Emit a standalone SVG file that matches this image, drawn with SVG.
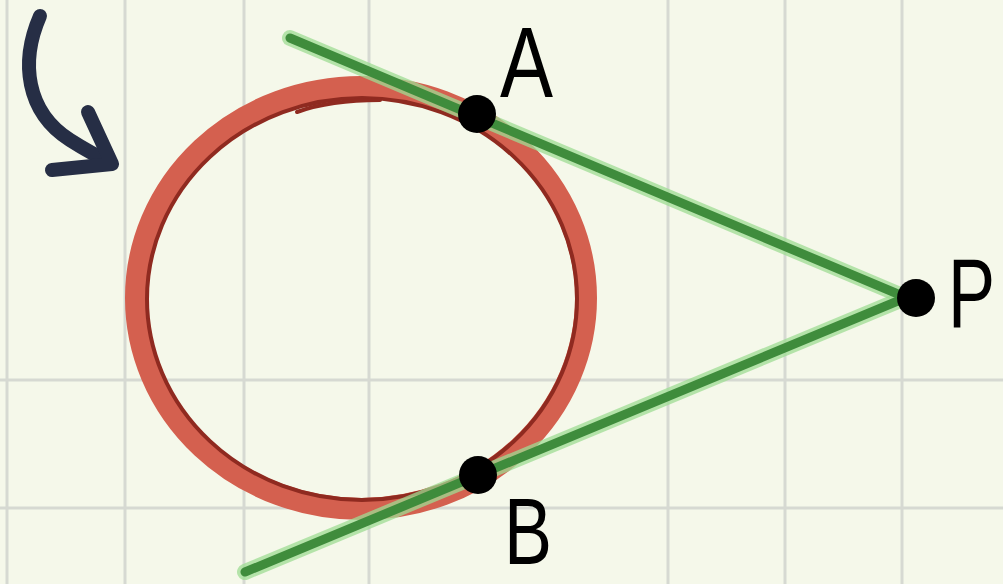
<svg xmlns="http://www.w3.org/2000/svg" width="1003" height="584" viewBox="0 0 1003 584">
<style>
.grid line{stroke:#d6d9d2;stroke-width:3}
.halo{stroke:#9edc93;stroke-width:16;stroke-linecap:round;fill:none;opacity:0.75}
.core{stroke:#3f8c3c;stroke-width:9;stroke-linecap:round;fill:none}
.dot{fill:#000}
.lbl{font-family:"Liberation Sans","DejaVu Sans",sans-serif;font-size:100px;fill:#000}
.arrow{stroke:#262e45;stroke-width:14;stroke-linecap:round;stroke-linejoin:round;fill:none}
</style>
<rect width="1003" height="584" fill="#f5f8ea"/>
<g class="grid" id="grid">
<line x1="7" y1="0" x2="7" y2="584"/>
<line x1="125" y1="0" x2="125" y2="584"/>
<line x1="244" y1="0" x2="244" y2="584"/>
<line x1="369" y1="0" x2="369" y2="584"/>
<line x1="668" y1="0" x2="668" y2="584"/>
<line x1="785" y1="0" x2="785" y2="584"/>
<line x1="902" y1="0" x2="902" y2="584"/>
<line x1="0" y1="380" x2="1003" y2="380"/>
<line x1="0" y1="508" x2="1003" y2="508"/>
</g>
<g id="arrow">
<path class="arrow" d="M40,16 C20,62 26,112 70,140 Q92,154 110,162"/>
<path class="arrow" d="M88,112 L112,164 L52,170"/>
</g>
<g id="circle">
<ellipse cx="361" cy="298" rx="225" ry="211" fill="none" stroke="#d4604f" stroke-width="22"/>
<ellipse cx="362" cy="299" rx="215" ry="201" fill="none" stroke="#8f2a20" stroke-width="4"/>
<path d="M297,112 Q330,100 380,100" fill="none" stroke="#8f2a20" stroke-width="4" stroke-linecap="round"/>
</g>
<g id="connectors">
<line class="halo" x1="290" y1="38" x2="905" y2="297"/>
<line class="halo" x1="245" y1="572" x2="905" y2="298"/>
<line class="core" x1="290" y1="38" x2="905" y2="297"/>
<line class="core" x1="245" y1="572" x2="905" y2="298"/>
</g>
<g id="node-A">
<circle class="dot" cx="477" cy="114" r="19"/>
<text class="lbl" x="500" y="97" textLength="53" lengthAdjust="spacingAndGlyphs">A</text>
</g>
<g id="node-B">
<circle class="dot" cx="478" cy="475" r="19"/>
<text class="lbl" x="504" y="564" textLength="48" lengthAdjust="spacingAndGlyphs" style="font-size:95px">B</text>
</g>
<g id="node-P">
<circle class="dot" cx="916" cy="298" r="19"/>
<text class="lbl" transform="translate(948,327) scale(0.72,1)" x="0" y="0" style="font-size:98px">P</text>
</g>
</svg>
